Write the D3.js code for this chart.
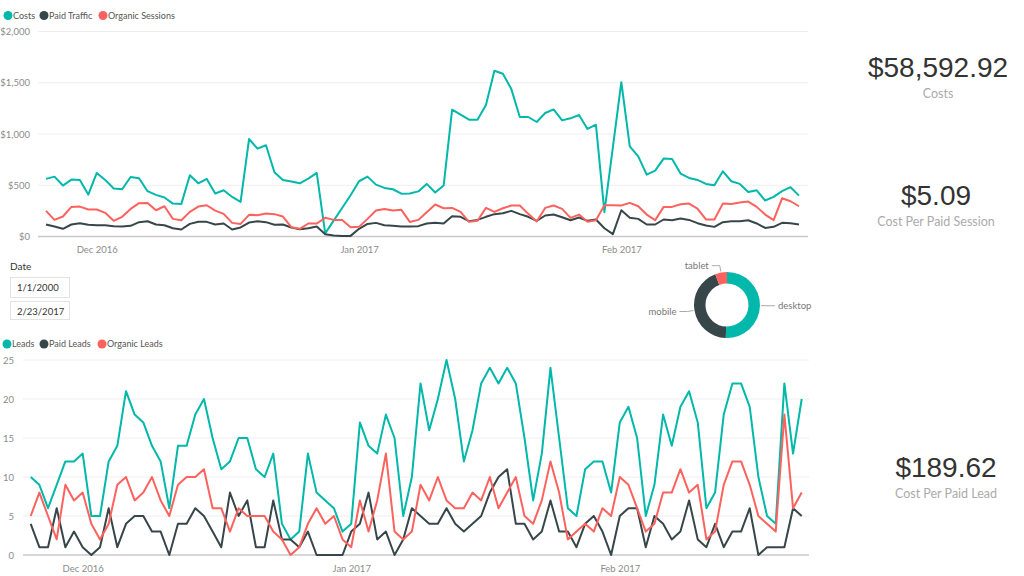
<!DOCTYPE html>
<meta charset="utf-8" />
<title>Costs and Leads dashboard</title>
<style>
  body { margin: 0; background: #fff; font-family: "Segoe UI", Lato, sans-serif; }
  svg { display: block; }
  .tick text { fill: #8c8c8c; font-size: 9.5px; font-family: "Segoe UI", Lato, sans-serif; }
  .grid line { stroke: #eeeeee; }
  .legend text { fill: #555; font-size: 9px; }
  .kpi-value { fill: #333; font-family: "Liberation Sans", Arial, sans-serif; font-size: 28px; }
  .kpi-label { fill: #ababab; font-size: 12.5px; font-family: "Segoe UI", Lato, sans-serif; }
</style>
<body>
<svg width="1024" height="576"></svg>
<script src="https://d3js.org/d3.v7.min.js"></script>
<script>
  // daily data, 25 Nov 2016 .. 22 Feb 2017
  const days = d3.timeDay.range(new Date(2016, 10, 25), new Date(2017, 1, 23));

  const costs = [
    562, 584, 497, 555, 552, 409, 620, 552, 468, 461,
    581, 568, 442, 406, 380, 321, 318, 597, 519, 562,
    419, 451, 386, 338, 951, 857, 890, 627, 552, 536,
    519, 565, 620, 30, 155, 278, 402, 539, 584, 506,
    474, 461, 418, 419, 440, 513, 429, 497, 1237, 1188,
    1140, 1140, 1282, 1617, 1588, 1438, 1166, 1166, 1117, 1205,
    1240, 1133, 1153, 1185, 1049, 1091, 237, 870, 1506, 880,
    782, 604, 643, 760, 756, 614, 571, 552, 513, 500,
    636, 539, 513, 435, 451, 351, 386, 442, 481, 399
  ];
  const paidTraffic = [
    117, 97, 75, 117, 130, 114, 110, 110, 101, 97,
    104, 140, 149, 117, 110, 81, 68, 123, 143, 143,
    117, 127, 68, 88, 136, 149, 140, 114, 117, 88,
    71, 81, 97, 23, 10, 6, 6, 75, 123, 133,
    110, 104, 97, 97, 101, 127, 133, 127, 198, 192,
    149, 162, 192, 218, 227, 250, 218, 192, 153, 205,
    214, 188, 159, 185, 153, 166, 81, 23, 256, 182,
    172, 117, 117, 166, 159, 175, 162, 130, 107, 94,
    140, 149, 149, 159, 127, 84, 94, 133, 130, 117
  ];
  const organicSessions = [
    250, 162, 195, 289, 292, 263, 263, 231, 153, 192,
    269, 325, 328, 256, 295, 172, 159, 240, 292, 305,
    253, 221, 133, 123, 211, 208, 224, 218, 195, 91,
    75, 127, 127, 182, 162, 162, 91, 94, 172, 253,
    269, 253, 260, 142, 162, 237, 312, 276, 279, 240,
    143, 153, 279, 240, 276, 302, 302, 221, 146, 279,
    302, 269, 182, 214, 143, 159, 305, 305, 302, 328,
    295, 214, 159, 289, 289, 315, 321, 273, 166, 166,
    321, 318, 331, 341, 289, 214, 159, 373, 344, 295
  ];

  const leads = [
    10, 9, 6, 9, 12, 12, 13, 5, 5, 12,
    14, 21, 18, 17, 14, 12, 6, 14, 14, 18,
    20, 15, 11, 12, 15, 15, 11, 10, 13, 4,
    2, 3, 13, 8, 7, 6, 3, 4, 17, 14,
    13, 18, 15, 5, 10, 22, 16, 20, 25, 20,
    12, 16, 22, 24, 22, 24, 22, 15, 7, 13,
    24, 15, 6, 5, 11, 12, 12, 8, 17, 19,
    15, 5, 9, 18, 14, 19, 21, 17, 6, 8,
    18, 22, 22, 19, 10, 5, 4, 22, 13, 20
  ];
  const paidLeads = [
    4, 1, 1, 6, 1, 3, 1, 0, 1, 6,
    1, 4, 5, 5, 3, 3, 0, 4, 4, 6,
    5, 3, 1, 8, 5, 7, 1, 1, 7, 2,
    2, 1, 3, 0, 0, 0, 0, 3, 4, 8,
    2, 3, 0, 2, 6, 5, 4, 4, 6, 4,
    3, 4, 5, 8, 10, 11, 4, 4, 2, 3,
    7, 3, 3, 1, 4, 5, 3, 0, 5, 6,
    6, 1, 5, 4, 2, 3, 7, 2, 1, 4,
    1, 3, 3, 6, 0, 1, 1, 1, 6, 5
  ];
  const organicLeads = [
    5, 8, 5, 2, 9, 7, 8, 4, 2, 4,
    9, 10, 7, 8, 10, 7, 5, 9, 10, 10,
    11, 6, 6, 3, 6, 5, 5, 5, 3, 2,
    0, 1, 4, 6, 4, 5, 2, 1, 7, 3,
    7, 13, 3, 2, 3, 9, 7, 10, 7, 6,
    6, 8, 7, 10, 6, 8, 10, 5, 4, 7,
    12, 8, 2, 3, 4, 3, 6, 5, 10, 9,
    6, 3, 4, 8, 8, 11, 8, 9, 2, 3,
    9, 12, 12, 9, 5, 4, 3, 18, 6, 8
  ];

  const deviceNames = ["desktop", "mobile", "tablet"];
  const deviceShare = [50.6, 43.6, 5.8];

  const kpis = [
    { value: "$58,592.92", label: "Costs", x: 938, y: 77 },
    { value: "$5.09", label: "Cost Per Paid Session", x: 936, y: 205 },
    { value: "$189.62", label: "Cost Per Paid Lead", x: 946, y: 477 }
  ];

  const monthTicks = [new Date(2016, 11, 1), new Date(2017, 0, 1), new Date(2017, 1, 1)];
  const teal = "#01B8AA", dark = "#374649", red = "#FD625E";

  const svg = d3.select("svg");
  const fmtMonth = d3.timeFormat("%b %Y");

  function lineChart(cfg) {
    const g = svg.append("g");
    const x = d3.scaleTime().domain([days[0], days[days.length - 1]]).range(cfg.xr);
    const y = d3.scaleLinear().domain([0, cfg.ymax]).range(cfg.yr);

    // gridlines
    g.append("g").attr("class", "grid")
      .selectAll("line").data(cfg.yticks.slice(1)).join("line")
      .attr("x1", cfg.gx[0]).attr("x2", cfg.gx[1])
      .attr("y1", d => y(d)).attr("y2", d => y(d));
    g.append("line")
      .attr("x1", cfg.gx[0]).attr("x2", cfg.gx[1])
      .attr("y1", y(0)).attr("y2", y(0))
      .attr("stroke", "#c8c8c8").attr("stroke-width", 1.5);

    const yAxis = g.append("g")
      .attr("transform", `translate(${cfg.gx[0]},0)`)
      .call(d3.axisLeft(y).tickValues(cfg.yticks).tickFormat(cfg.yfmt).tickSize(0).tickPadding(cfg.ypad));
    yAxis.select(".domain").remove();

    const xAxis = g.append("g")
      .attr("transform", `translate(0,${y(0)})`)
      .call(d3.axisBottom(x).tickValues(monthTicks).tickFormat(fmtMonth).tickSize(0).tickPadding(10));
    xAxis.select(".domain").remove();

    const line = d3.line().x((d, i) => x(days[i])).y(d => y(d));
    cfg.series.forEach(s => {
      g.append("path")
        .datum(s.values)
        .attr("fill", "none")
        .attr("stroke", s.color)
        .attr("stroke-width", 2)
        .attr("stroke-linejoin", "round")
        .attr("d", line);
    });

    // legend
    const lg = g.append("g").attr("class", "legend");
    cfg.series.forEach((s, i) => {
      lg.append("circle").attr("cx", cfg.legendX[i]).attr("cy", cfg.legendY).attr("r", 4.5).attr("fill", s.color);
      lg.append("text").attr("x", cfg.legendX[i] + 5).attr("y", cfg.legendY).attr("dy", "0.35em").text(s.name);
    });
  }

  lineChart({
    xr: [46, 799], yr: [236.5, 31.5], gx: [38, 808], ymax: 2000,
    yticks: [0, 500, 1000, 1500, 2000], yfmt: d3.format("$,"), ypad: 8,
    legendX: [8, 44, 103], legendY: 15.5,
    series: [
      { name: "Costs", values: costs, color: teal },
      { name: "Paid Traffic", values: paidTraffic, color: dark },
      { name: "Organic Sessions", values: organicSessions, color: red }
    ]
  });

  lineChart({
    xr: [30.7, 801.7], yr: [555, 360], gx: [23, 809], ymax: 25,
    yticks: [0, 5, 10, 15, 20, 25], yfmt: d3.format("d"), ypad: 9,
    legendX: [7, 44, 102], legendY: 344,
    series: [
      { name: "Leads", values: leads, color: teal },
      { name: "Paid Leads", values: paidLeads, color: dark },
      { name: "Organic Leads", values: organicLeads, color: red }
    ]
  });

  // date slicer
  const slicer = svg.append("g");
  slicer.append("text").attr("x", 10).attr("y", 266).attr("dy", "0.35em")
    .attr("fill", "#333").attr("font-size", 10).text("Date");
  [["1/1/2000", 277, 20], ["2/23/2017", 301, 18]].forEach(([t, yy, h]) => {
    slicer.append("rect").attr("x", 10.5).attr("y", yy + 0.5).attr("width", 59).attr("height", h)
      .attr("fill", "#fff").attr("stroke", "#e3e3e3");
    slicer.append("text").attr("x", 17).attr("y", yy + 10.5).attr("dy", "0.35em")
      .attr("fill", "#333").attr("font-size", 9.5).text(t);
  });

  // donut
  const cx = 727, cy = 305, rOut = 33, rIn = 21.5;
  const pie = d3.pie().sort(null).value(d => d.v);
  const arcs = pie(deviceNames.map((n, i) => ({ name: n, v: deviceShare[i] })));
  const arc = d3.arc().innerRadius(rIn).outerRadius(rOut);
  const donut = svg.append("g").attr("transform", `translate(${cx},${cy})`);
  const sliceColors = [teal, dark, red];
  donut.selectAll("path").data(arcs).join("path")
    .attr("d", arc).attr("fill", (d, i) => sliceColors[i]);
  arcs.forEach(d => {
    const a = (d.startAngle + d.endAngle) / 2;
    const p1 = [Math.sin(a) * (rOut + 1), -Math.cos(a) * (rOut + 1)];
    const p2 = [Math.sin(a) * (rOut + 7), -Math.cos(a) * (rOut + 7)];
    const side = Math.sin(a) >= 0 ? 1 : -1;
    const p3 = [p2[0] + side * 8, p2[1]];
    donut.append("polyline").attr("points", [p1, p2, p3].join(" "))
      .attr("fill", "none").attr("stroke", "#aaa").attr("stroke-width", 1);
    donut.append("text").attr("x", p3[0] + side * 3).attr("y", p3[1]).attr("dy", "0.35em")
      .attr("text-anchor", side > 0 ? "start" : "end")
      .attr("fill", "#777").attr("font-size", 9.5).text(d.data.name);
  });

  // KPI cards
  kpis.forEach(k => {
    svg.append("text").attr("class", "kpi-value").attr("x", k.x).attr("y", k.y)
      .attr("text-anchor", "middle").text(k.value);
    svg.append("text").attr("class", "kpi-label").attr("x", k.x).attr("y", k.y + 17)
      .attr("dy", "0.35em").attr("text-anchor", "middle").text(k.label);
  });
</script>
</body>
